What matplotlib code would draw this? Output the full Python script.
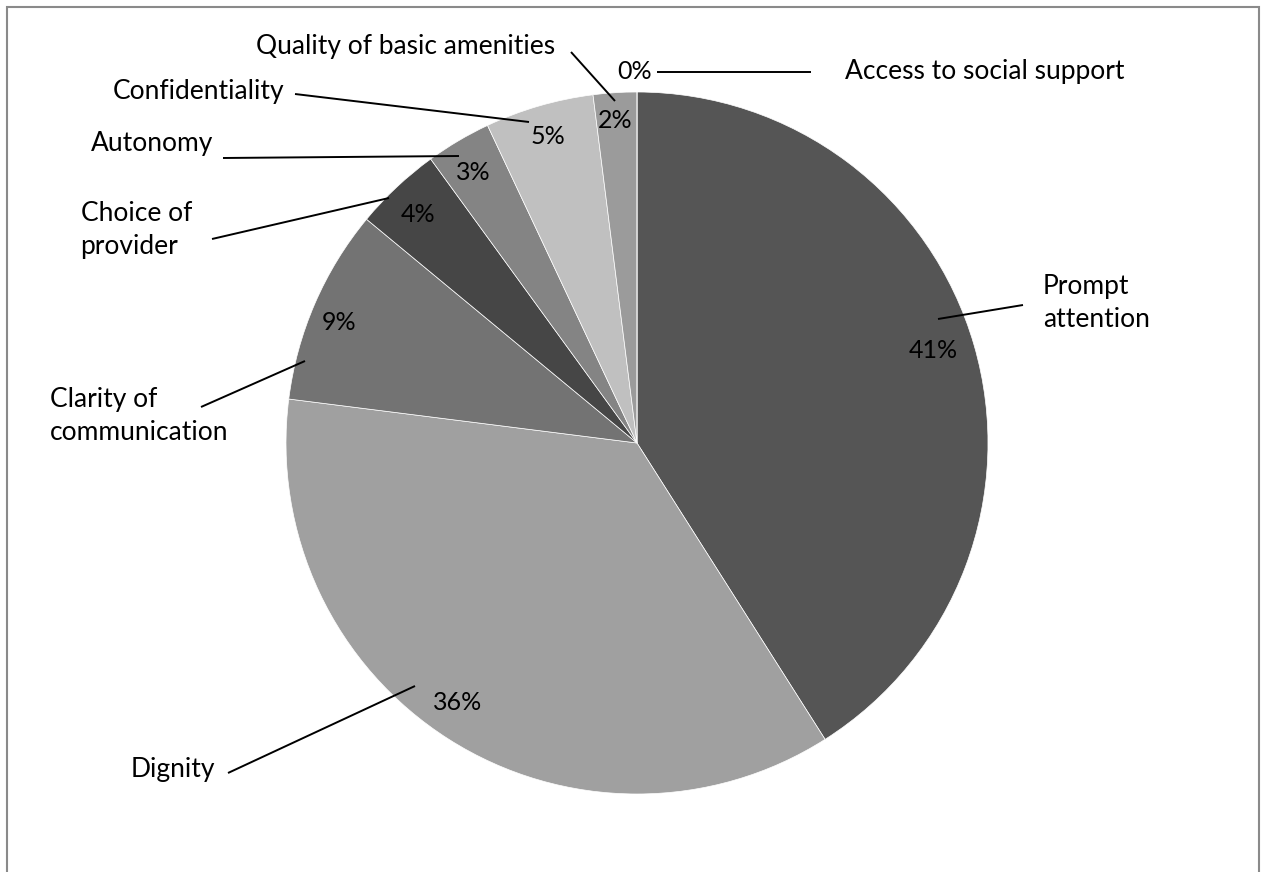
import matplotlib
matplotlib.use("Agg")
import matplotlib.pyplot as plt
from matplotlib.patches import Rectangle

# share of responses per quality domain (clockwise from 12 o'clock)
categories = ["Prompt\nattention", "Dignity", "Clarity of\ncommunication",
              "Choice of\nprovider", "Autonomy", "Confidentiality",
              "Quality of basic amenities", "Access to social support"]
values = [41, 36, 9, 4, 3, 5, 2, 0]
colors = ["#555555", "#a0a0a0", "#737373", "#464646",
          "#848484", "#c0c0c0", "#9b9b9b", "#d0d0d0"]

W, H = 1265, 872

# label placement in pixel space (x, y from top)
name_pos = [(1043, 303, "left"), (215, 770, "right"), (228, 416, "right"),
            (192, 230, "right"), (213, 143, "right"), (284, 92, "right"),
            (555, 47, "right"), (845, 72, "left")]
pct_pos = [(933, 350), (458, 702), (339, 322), (418, 214),
           (473, 172), (548, 137), (615, 121), (635, 72)]
leaders = [((938, 319), (1023, 305)), ((228, 773), (415, 686)),
           ((201, 407), (305, 361)), ((212, 239), (389, 198)),
           ((223, 158), (459, 156)), ((295, 94), (529, 122)),
           ((571, 52), (615, 101)), ((657, 72), (811, 72))]

plt.rcParams['font.family'] = ['Lato', 'DejaVu Sans']

fig = plt.figure(figsize=(W / 100, H / 100), dpi=100)
ax = fig.add_axes([0, 0, 1, 1])

ax.pie(values, colors=colors, startangle=90, counterclock=False,
       center=(637, H - 443), radius=351,
       wedgeprops=dict(linewidth=0.5, edgecolor="#ffffff"))
ax.set_xlim(0, W)
ax.set_ylim(0, H)
ax.set_aspect("equal")
ax.axis("off")

for (x, y, ha), name in zip(name_pos, categories):
    ax.text(x, H - y, name, ha=ha, va="center", multialignment="left",
            fontsize=19, color="#000000", linespacing=1.38)

for (x, y), v in zip(pct_pos, values):
    ax.text(x, H - y, f"{v}%", ha="center", va="center", fontsize=18,
            color="#000000")

for (x0, y0), (x1, y1) in leaders:
    ax.plot([x0, x1], [H - y0, H - y1], color="#000000", lw=1.4,
            solid_capstyle="butt")

# chart frame
fig.patches.append(Rectangle((7 / W, -0.05), 1252 / W, (H - 7) / H + 0.05,
                             transform=fig.transFigure, fill=False,
                             edgecolor="#8a8a8a", lw=1.5))

fig.savefig("out.png", dpi=100)
